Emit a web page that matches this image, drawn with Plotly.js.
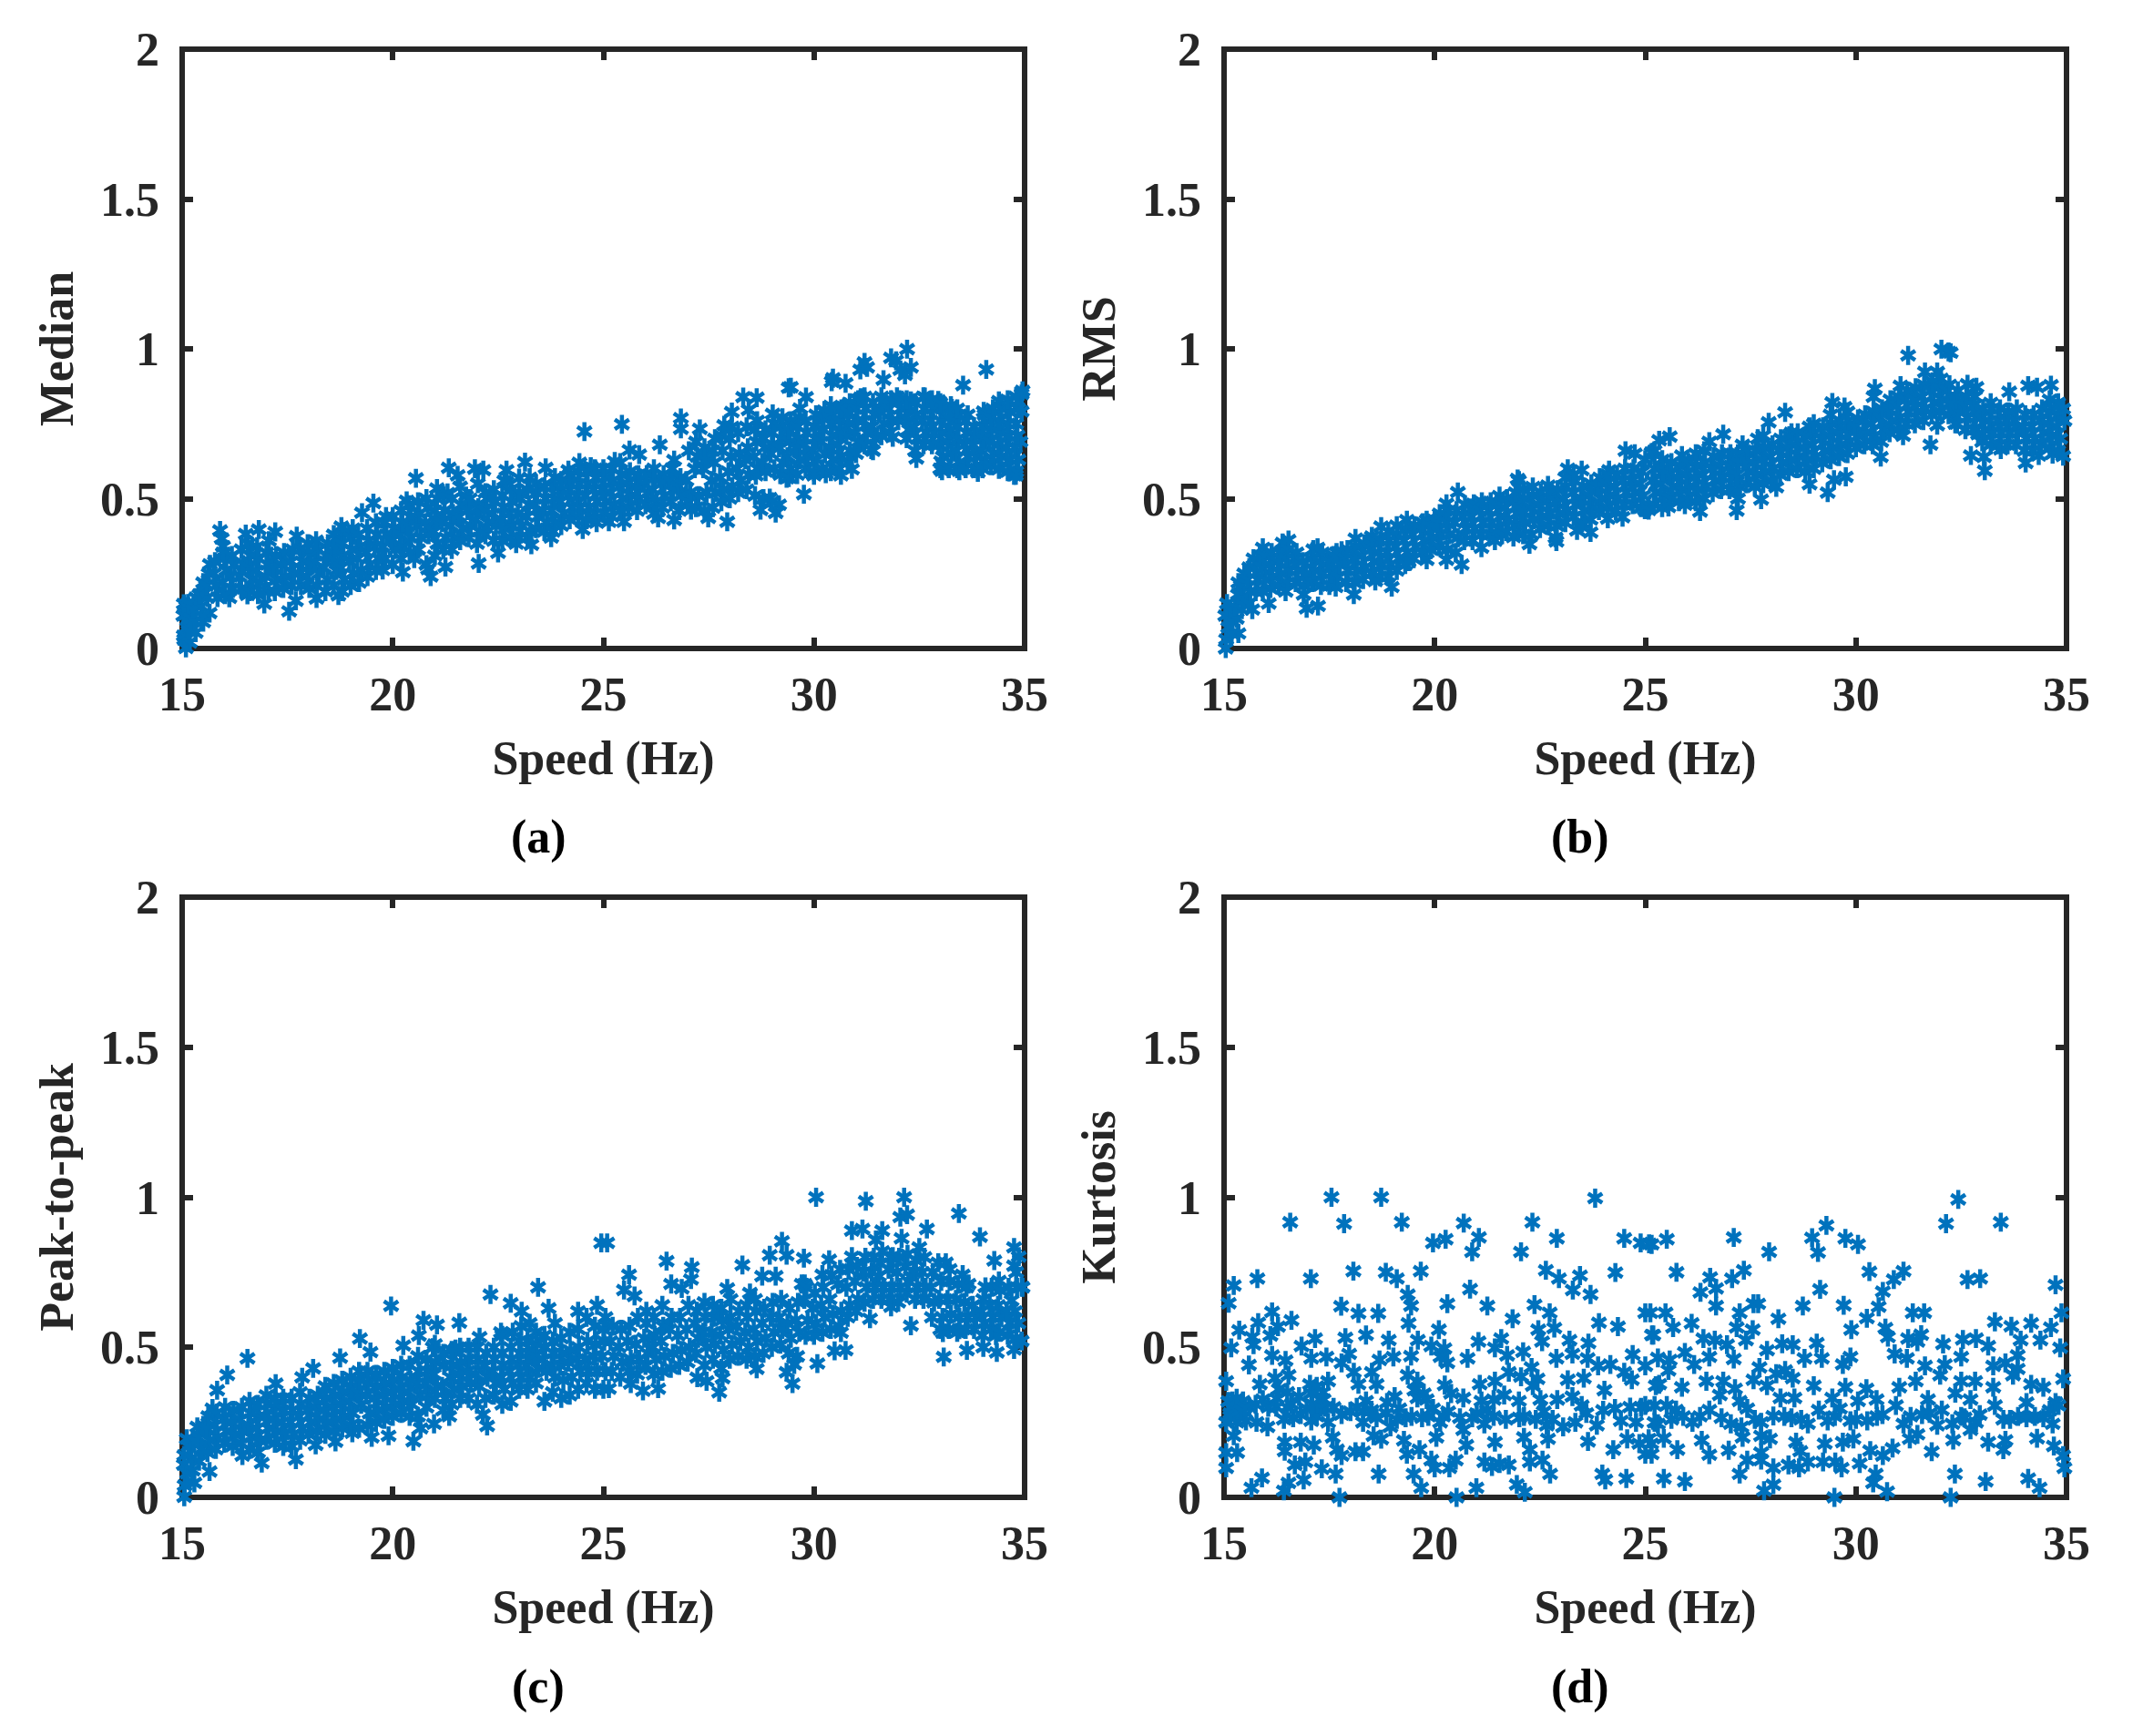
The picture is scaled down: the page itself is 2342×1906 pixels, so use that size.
<!DOCTYPE html>
<html><head><meta charset="utf-8">
<script src="https://cdn.plot.ly/plotly-3.0.1.min.js"></script>
<style>html,body{margin:0;padding:0;background:#fff}</style></head>
<body><div id="chart" style="width:2342px;height:1906px"></div>
<script>
// Each array: speed (Hz), value, speed, value, ...
const medianPairs = [24.55,.724,21.33,.603,21.54,.578,20.55,.568,21.95,.6,22.15,.595,22.7,.595,23.14,.622,23.63,.603,23,.569,22.7,.556,24.17,.595,24.43,.62,24.7,.607,19.54,.485,19.27,.453,15.9,.394,16.51,.382,16.82,.397,17.21,.389,17.72,.375,18.78,.407,20.33,.493,21.05,.534,21.3,.519,21.74,.509,24.51,.397,24.84,.42,23.76,.37,23.29,.346,22.93,.35,22.5,.319,22.04,.284,21.25,.272,20.9,.24,20.84,.265,20.24,.255,19.76,.262,20.51,.3,18.71,.177,18.19,.167,17.54,.124,17.7,.159,16.95,.149,16.55,.179,16.12,.169,15.65,.118,15.5,.088,15.32,.053,15.09,.002,15.04,.043,15.07,.113,15.04,.149,15.5,.22,15.66,.281,15.97,.341,15.94,.367,
15.05,.03,15.12,.07,15.03,.11,15.1,.14,15.18,.02,15.15,.06,15.2,.1,15.14,.15,15.3,.09,15.26,.13,15.33,.17,15.45,.14,15.41,.18,15.48,.11,15.6,.17,15.57,.21,15.63,.25,15.8,.21,15.75,.25,15.84,.17,15.78,.29,16.02,.18,15.96,.22,16.05,.26,16,.3,15.97,.32,16.2,.2,16.15,.24,16.24,.28,16.18,.31,16.4,.2,16.36,.24,16.45,.28,16.41,.33,16.6,.19,16.66,.23,16.58,.27,16.62,.31,16.56,.35,16.8,.18,16.85,.22,16.76,.26,16.82,.3,16.78,.34,17.05,.19,16.98,.24,17.03,.28,17,.32,17.06,.36,17.2,.19,17.25,.23,17.17,.27,17.23,.31,17.4,.2,17.45,.24,17.36,.28,17.42,.32,17.6,.21,17.66,.25,17.58,.29,17.63,.33,17.82,.21,17.77,.25,17.85,.29,17.8,.33,18.02,.2,17.96,.24,18.05,.28,18,.32,17.98,.35,18.2,.21,18.25,.25,18.16,.29,18.23,.33,18.18,.36,18.4,.19,18.45,.23,18.36,.27,18.42,.31,18.46,.35,18.6,.21,18.66,.26,18.57,.3,18.63,.34,18.6,.38,18.8,.19,18.85,.23,18.76,.27,18.83,.31,18.79,.35,18.86,.39,19,.21,19.06,.25,18.97,.29,19.03,.33,19,.37,19.05,.4,19.2,.22,19.26,.26,19.16,.3,19.23,.34,19.18,.38,19.4,.24,19.45,.28,19.37,.32,19.43,.36,19.39,.4,19.6,.26,19.66,.3,19.57,.34,19.63,.38,19.6,.42,19.82,.3,19.76,.34,19.85,.38,19.8,.42,19.84,.44,20,.28,20.06,.33,19.97,.36,20.04,.4,20,.44,20.2,.3,20.26,.34,20.17,.38,20.23,.42,20.2,.46,20.4,.32,20.44,.37,20.36,.41,20.43,.44,20.38,.48,20.6,.33,20.66,.37,20.57,.41,20.63,.45,20.6,.49,20.8,.28,20.85,.38,20.77,.42,20.83,.47,20.8,.5,21,.31,21.06,.35,20.97,.39,21.03,.43,21,.46,21.05,.5,21.2,.33,21.26,.37,21.17,.42,21.23,.46,21.2,.51,21.4,.33,21.45,.37,21.37,.41,21.43,.45,21.4,.5,21.6,.36,21.66,.4,21.57,.44,21.63,.48,21.6,.54,21.8,.37,21.85,.41,21.77,.46,21.83,.5,22,.35,22.06,.39,21.97,.43,22.03,.47,22.02,.55,22.2,.38,22.26,.42,22.17,.46,22.23,.5,22.2,.52,22.4,.36,22.45,.41,22.37,.45,22.43,.49,22.4,.53,22.6,.36,22.66,.4,22.57,.43,22.63,.47,22.6,.51,22.65,.56,22.8,.37,22.85,.41,22.77,.45,22.83,.49,22.8,.53,23,.37,23.06,.41,22.97,.45,23.03,.5,23,.52,23.2,.37,23.26,.39,23.17,.44,23.23,.48,23.2,.53,23.25,.57,23.4,.4,23.45,.44,23.37,.48,23.43,.52,23.4,.55,23.6,.39,23.66,.42,23.57,.46,23.63,.5,23.6,.54,23.8,.39,23.85,.42,23.77,.46,23.83,.5,23.8,.54,23.85,.57,24,.41,24.06,.45,23.97,.49,24.03,.53,24,.56,24.2,.43,24.26,.47,24.17,.51,24.23,.55,24.2,.58,24.4,.44,24.45,.47,24.37,.51,24.43,.55,24.4,.59,24.6,.43,24.66,.47,24.57,.51,24.63,.55,24.6,.59,24.8,.45,24.85,.49,24.77,.53,24.83,.57,24.8,.6,25,.45,25.06,.49,24.97,.53,25.03,.57,25,.6,
25.44,.748,26.34,.68,25.62,.662,25.85,.647,25.27,.624,26.68,.629,26.84,.769,26.84,.733,27.29,.733,28.32,.839,28.64,.837,28.05,.789,28.45,.796,27.87,.745,29.02,.783,29.45,.872,29.4,.87,29.81,.839,29.67,.801,30.25,.794,30.45,.902,30.42,.89,30.75,.885,31.26,.938,31.2,.955,31.1,.93,31.83,.97,31.95,.96,32.21,.999,32.3,.938,32.16,.913,32.05,.93,31.65,.897,31.11,.837,30.72,.806,33.54,.879,34.09,.931,34.93,.849,34.95,.86,34.93,.791,34.9,.69,34.79,.578,34.39,.826,34.03,.791,33.27,.801,32.63,.839,32.95,.828,32.3,.826,32.43,.634,33.04,.593,33.45,.593,33.89,.588,34.39,.598,34.75,.578,33.02,.624,31.87,.705,31.36,.664,30.9,.598,30.64,.578,30.28,.583,30,.578,29.76,.515,29.35,.568,29.09,.452,29.17,.48,28.73,.462,27.94,.423,27.49,.436,27.08,.462,26.68,.429,26.3,.436,25.49,.423,25.13,.423,28.95,.502,28.62,.578,
25.2,.44,25.26,.48,25.17,.52,25.23,.56,25.2,.6,25.4,.46,25.45,.5,25.37,.54,25.43,.58,25.4,.62,25.6,.47,25.66,.51,25.57,.55,25.63,.59,25.8,.46,25.85,.5,25.77,.54,25.83,.58,26,.48,26.06,.52,25.97,.55,26.03,.58,26.2,.45,26.26,.49,26.17,.53,26.23,.57,26.2,.6,26.4,.47,26.45,.51,26.37,.55,26.43,.58,26.6,.49,26.66,.53,26.57,.56,26.63,.6,26.8,.46,26.85,.51,26.77,.54,26.83,.57,27,.49,27.06,.52,26.97,.56,27.03,.66,27.2,.47,27.26,.51,27.17,.6,27.23,.64,27.2,.69,27.4,.46,27.45,.52,27.37,.6,27.43,.63,27.4,.67,27.6,.47,27.66,.52,27.57,.56,27.63,.62,27.6,.66,27.65,.7,27.8,.49,27.85,.53,27.77,.57,27.83,.66,27.8,.71,28,.5,28.06,.54,27.97,.59,28.03,.64,28,.7,28.05,.74,28.2,.52,28.26,.56,28.17,.6,28.23,.65,28.2,.72,28.4,.53,28.45,.58,28.37,.63,28.43,.67,28.4,.74,28.6,.51,28.66,.6,28.57,.64,28.63,.69,28.6,.73,28.65,.76,28.8,.5,28.85,.59,28.77,.62,28.83,.67,28.8,.7,28.85,.73,29,.49,29.06,.6,28.97,.65,29.03,.68,29,.72,29.05,.75,29.2,.58,29.26,.62,29.17,.67,29.23,.7,29.2,.74,29.25,.77,29.4,.57,29.45,.6,29.37,.64,29.43,.69,29.4,.73,29.45,.76,29.6,.58,29.66,.63,29.57,.67,29.63,.7,29.6,.74,29.65,.77,29.8,.6,29.85,.64,29.77,.68,29.83,.72,29.8,.76,30,.59,30.06,.63,29.97,.66,30.03,.7,30,.74,30.05,.78,30.2,.6,30.26,.65,30.17,.69,30.23,.73,30.2,.77,30.25,.79,30.4,.59,30.45,.63,30.37,.67,30.43,.71,30.4,.75,30.45,.78,30.4,.81,30.6,.6,30.66,.64,30.57,.68,30.63,.72,30.6,.76,30.65,.8,30.8,.62,30.85,.66,30.77,.71,30.83,.75,30.8,.79,30.85,.82,31,.65,31.06,.69,30.97,.72,31.03,.76,31,.8,31.05,.83,31.2,.68,31.26,.72,31.17,.76,31.23,.8,31.2,.84,31.4,.66,31.45,.7,31.37,.74,31.43,.78,31.4,.82,31.6,.71,31.66,.75,31.57,.79,31.63,.82,31.6,.84,31.8,.72,31.85,.76,31.77,.8,31.83,.83,32,.76,32.06,.8,31.97,.84,32.03,.83,32.2,.7,32.26,.73,32.17,.77,32.23,.81,32.2,.83,32.4,.66,32.45,.7,32.37,.74,32.43,.78,32.4,.82,32.6,.68,32.66,.72,32.57,.76,32.63,.8,32.6,.84,32.8,.68,32.85,.72,32.77,.76,32.83,.8,32.8,.83,33,.6,33.06,.64,32.97,.68,33.03,.72,33,.76,33.05,.8,33,.82,33.2,.6,33.26,.65,33.17,.69,33.23,.73,33.2,.77,33.25,.81,33.4,.6,33.45,.62,33.37,.66,33.43,.7,33.4,.74,33.45,.78,33.4,.8,33.6,.6,33.66,.64,33.57,.68,33.63,.72,33.6,.76,33.65,.78,33.8,.6,33.85,.64,33.77,.68,33.83,.71,33.8,.74,34,.6,34.06,.63,33.97,.66,34.03,.7,34,.74,34.05,.78,34.2,.61,34.26,.65,34.17,.69,34.23,.73,34.2,.77,34.25,.8,34.4,.6,34.45,.64,34.37,.68,34.43,.72,34.4,.76,34.45,.8,34.6,.59,34.66,.63,34.57,.67,34.63,.71,34.6,.75,34.65,.79,34.6,.83,34.8,.59,34.85,.63,34.77,.67,34.83,.71,34.8,.75,34.85,.8,34.8,.84];

const rmsPairs = [15.04,0,15.34,.05,15.67,.13,16.06,.15,16.46,.19,16.96,.134,17.23,.142,16.89,.18,17.65,.205,18.08,.18,18.98,.205,18.59,.225,19.81,.296,19.38,.29,20.28,.296,20.64,.28,21.11,.336,21.43,.36,22.25,.348,21.87,.372,22.89,.357,22.87,.37,23.38,.394,23.7,.387,24.11,.433,24.46,.438,24.99,.463,15.7,.3,15.92,.336,16.39,.352,16.53,.362,15.34,.22,17.22,.336,17.79,.326,18.12,.367,18.51,.374,18.73,.407,19.34,.428,19.81,.428,20.28,.483,20.55,.522,20.93,.483,21.54,.509,21.97,.566,22,.56,22.33,.539,22.69,.544,23.16,.6,23.49,.595,24.14,.595,24.53,.66,24.75,.65,25.22,.66,
15.05,.03,15.1,.07,15.03,.11,15.07,.15,15.18,.05,15.2,.09,15.14,.13,15.3,.1,15.26,.14,15.33,.18,15.42,.13,15.46,.17,15.4,.21,15.48,.25,15.58,.15,15.62,.19,15.55,.23,15.6,.27,15.75,.19,15.8,.23,15.72,.27,15.85,.31,15.92,.19,15.98,.23,15.9,.27,15.95,.31,16.1,.2,16.15,.24,16.08,.28,16.13,.32,16.3,.21,16.35,.25,16.28,.29,16.33,.32,16.5,.22,16.55,.26,16.47,.3,16.52,.33,16.7,.22,16.75,.26,16.67,.3,16.72,.32,16.9,.21,16.95,.25,16.87,.29,17,.22,17.1,.22,17.15,.26,17.07,.3,17.12,.33,17.3,.21,17.35,.25,17.28,.29,17.33,.32,17.5,.21,17.55,.25,17.47,.29,17.6,.31,17.7,.24,17.75,.28,17.67,.32,17.9,.22,17.95,.26,17.87,.3,17.93,.33,18.1,.22,18.15,.26,18.07,.3,18.12,.34,18.3,.23,18.35,.27,18.28,.31,18.33,.35,18.5,.25,18.55,.29,18.47,.33,18.52,.36,18.7,.24,18.75,.28,18.67,.32,18.72,.36,18.9,.24,18.95,.28,18.87,.32,18.92,.36,18.9,.39,19.1,.26,19.15,.3,19.07,.34,19.12,.38,19.1,.41,19.3,.28,19.35,.32,19.27,.36,19.32,.4,19.5,.3,19.55,.34,19.47,.38,19.52,.41,19.7,.32,19.75,.36,19.67,.4,19.72,.42,19.9,.33,19.95,.37,19.87,.41,20,.43,20.1,.34,20.15,.38,20.07,.42,20.12,.45,20.3,.33,20.35,.38,20.28,.42,20.33,.46,20.5,.32,20.55,.37,20.47,.42,20.52,.46,20.7,.36,20.75,.4,20.67,.44,20.72,.48,20.9,.36,20.95,.4,20.87,.44,20.92,.47,21.1,.38,21.15,.42,21.07,.46,21.12,.49,21.3,.38,21.35,.42,21.28,.46,21.33,.49,21.5,.4,21.55,.44,21.47,.48,21.6,.38,21.7,.39,21.75,.43,21.67,.47,21.72,.5,21.9,.41,21.95,.45,21.87,.49,21.92,.52,22.1,.38,22.15,.42,22.07,.46,22.12,.5,22.1,.53,22.3,.38,22.35,.43,22.28,.47,22.33,.51,22.5,.4,22.55,.44,22.47,.48,22.52,.52,22.7,.41,22.75,.45,22.67,.49,22.72,.52,22.9,.41,22.95,.45,22.87,.49,22.92,.53,23.1,.42,23.15,.46,23.07,.5,23.12,.54,23.1,.57,23.3,.44,23.35,.48,23.28,.52,23.33,.56,23.3,.58,23.5,.42,23.55,.46,23.47,.5,23.52,.54,23.7,.43,23.75,.47,23.67,.51,23.72,.55,23.9,.46,23.95,.5,23.87,.54,23.92,.57,24.1,.47,24.15,.51,24.07,.55,24.12,.58,24.3,.46,24.35,.5,24.28,.54,24.33,.58,24.5,.48,24.55,.52,24.47,.56,24.52,.6,24.7,.48,24.75,.52,24.67,.56,24.72,.6,24.9,.47,24.95,.51,24.87,.55,24.92,.59,25,.63,
25.58,.707,25.33,.695,25.15,.654,25.87,.644,26.52,.69,26.85,.715,27.31,.68,27.67,.7,27.93,.755,28.32,.788,28.47,.72,28.9,.74,29.44,.821,29.73,.806,30.05,.766,30.45,.867,30.42,.84,30.45,.786,31.06,.877,31.24,.978,32.03,.999,32.2,.99,32.25,.987,31.64,.923,31.93,.923,32.65,.882,32.86,.872,33.64,.857,34.09,.877,34.3,.872,34.63,.879,34.92,.8,26.3,.457,27.17,.46,27.75,.497,28.11,.538,28.9,.548,29.33,.52,29.76,.573,29.48,.563,30.59,.639,31.12,.71,31.77,.68,31.93,.745,32.36,.75,32.9,.715,32.73,.644,33.06,.593,33.04,.639,33.44,.664,34.03,.619,34.34,.644,34.67,.649,34.92,.642,25.55,.472,25.08,.462,25.94,.48,
25.2,.48,25.25,.52,25.17,.56,25.22,.6,25.4,.47,25.45,.51,25.37,.55,25.42,.59,25.4,.63,25.6,.5,25.65,.54,25.57,.58,25.62,.62,25.8,.49,25.85,.53,25.77,.57,25.82,.61,26,.5,26.05,.54,25.97,.58,26.02,.62,26.2,.49,26.25,.53,26.17,.57,26.22,.61,26.2,.65,26.4,.5,26.45,.54,26.37,.58,26.42,.62,26.4,.66,26.6,.52,26.65,.56,26.57,.6,26.62,.64,26.8,.53,26.85,.57,26.77,.61,26.82,.65,27,.53,27.05,.57,26.97,.61,27.02,.65,27.2,.5,27.25,.54,27.17,.58,27.22,.62,27.2,.65,27.4,.55,27.45,.59,27.37,.63,27.42,.66,27.6,.54,27.65,.58,27.57,.62,27.62,.66,27.8,.55,27.85,.59,27.77,.63,27.82,.67,27.8,.71,28,.56,28.05,.6,27.97,.64,28.02,.68,28.2,.58,28.25,.62,28.17,.66,28.22,.7,28.4,.59,28.45,.63,28.37,.67,28.42,.71,28.6,.6,28.65,.64,28.57,.68,28.62,.72,28.8,.59,28.85,.63,28.77,.67,28.82,.71,29,.6,29.05,.64,28.97,.68,29.02,.72,29,.75,29.2,.62,29.25,.66,29.17,.7,29.22,.74,29.4,.63,29.45,.67,29.37,.71,29.42,.75,29.4,.78,29.6,.64,29.65,.68,29.57,.72,29.62,.76,29.8,.65,29.85,.69,29.77,.73,29.82,.76,29.8,.79,30,.67,30.05,.71,29.97,.74,30.2,.68,30.25,.72,30.17,.76,30.22,.78,30.4,.68,30.45,.71,30.37,.75,30.42,.79,30.6,.69,30.65,.73,30.57,.77,30.62,.8,30.8,.72,30.85,.76,30.77,.8,30.82,.83,31,.73,31.05,.77,30.97,.81,31.02,.84,31.2,.75,31.25,.79,31.17,.83,31.22,.86,31.4,.75,31.45,.79,31.37,.83,31.42,.87,31.6,.76,31.65,.8,31.57,.84,31.62,.88,31.8,.78,31.85,.82,31.77,.86,31.82,.89,32,.79,32.05,.83,31.97,.87,32.02,.9,32.2,.78,32.25,.82,32.17,.86,32.22,.88,32.4,.75,32.45,.79,32.37,.83,32.42,.86,32.6,.73,32.65,.77,32.57,.81,32.62,.84,32.8,.73,32.85,.77,32.77,.81,32.82,.84,33,.69,33.05,.73,32.97,.77,33.02,.8,33.2,.68,33.25,.72,33.17,.76,33.22,.8,33.2,.82,33.4,.68,33.45,.72,33.37,.76,33.42,.8,33.6,.68,33.65,.72,33.57,.76,33.62,.79,33.8,.68,33.85,.72,33.77,.76,33.82,.8,34,.66,34.05,.7,33.97,.74,34.02,.78,34.2,.66,34.25,.7,34.17,.74,34.22,.78,34.4,.68,34.45,.72,34.37,.76,34.42,.8,34.6,.67,34.65,.71,34.57,.75,34.62,.79,34.6,.83,34.8,.66,34.85,.7,34.77,.74,34.82,.78,34.8,.82,34.95,.76];

const peakPairs = [16.55,.463,16.07,.408,15.83,.357,17.22,.379,17.85,.4,18.11,.43,18.75,.465,19.22,.529,19.47,.484,19.96,.638,20.25,.506,20.73,.59,21.05,.575,20.62,.539,20.95,.499,21.58,.582,22.32,.676,22.06,.534,22.57,.55,21.49,.494,23.45,.7,22.8,.647,23.06,.62,23.7,.63,24.4,.62,24.85,.64,15.05,.002,15.29,.048,15.65,.086,15.04,.109,16.43,.139,16.89,.114,17.7,.126,18.17,.175,18.64,.185,19.04,.215,19.5,.2,19.9,.205,20.49,.187,20.66,.23,20.98,.245,21.34,.27,22.14,.276,22.24,.238,15.11,.195,15.36,.235,15.72,.296,
15.06,.04,15.12,.08,15.05,.14,15.15,.17,15.25,.09,15.22,.13,15.28,.19,15.4,.12,15.45,.16,15.38,.2,15.5,.24,15.6,.15,15.65,.19,15.57,.23,15.62,.27,15.8,.16,15.85,.2,15.77,.24,15.82,.28,16,.18,16.05,.22,15.97,.26,16.02,.3,16.2,.17,16.25,.21,16.17,.25,16.22,.29,16.4,.18,16.45,.22,16.37,.26,16.42,.3,16.6,.16,16.65,.2,16.57,.24,16.62,.28,16.6,.32,16.8,.15,16.85,.19,16.77,.23,16.82,.27,16.8,.31,17,.19,17.05,.23,16.97,.27,17.02,.31,17,.34,17.2,.18,17.25,.22,17.17,.26,17.22,.3,17.2,.33,17.4,.17,17.45,.21,17.37,.25,17.42,.29,17.4,.33,17.6,.17,17.65,.21,17.57,.25,17.62,.29,17.6,.33,17.8,.19,17.85,.23,17.77,.27,17.82,.31,17.8,.35,18,.21,18.05,.25,17.97,.29,18.02,.33,18.2,.22,18.25,.26,18.17,.3,18.22,.34,18.4,.21,18.45,.25,18.37,.29,18.42,.33,18.4,.37,18.6,.22,18.65,.26,18.57,.3,18.62,.34,18.6,.38,18.8,.23,18.85,.27,18.77,.31,18.82,.35,18.8,.39,19,.24,19.05,.28,18.97,.32,19.02,.36,19,.4,19.2,.23,19.25,.31,19.17,.35,19.22,.39,19.2,.42,19.4,.24,19.45,.28,19.37,.34,19.42,.38,19.4,.42,19.6,.25,19.65,.29,19.57,.33,19.62,.37,19.6,.41,19.8,.26,19.85,.3,19.77,.34,19.82,.38,19.8,.42,20,.27,20.05,.31,19.97,.35,20.02,.39,20,.43,20.2,.28,20.25,.32,20.17,.36,20.22,.4,20.2,.44,20.4,.27,20.45,.31,20.37,.35,20.42,.39,20.4,.44,20.6,.27,20.65,.34,20.57,.38,20.62,.42,20.6,.47,20.8,.3,20.85,.34,20.77,.38,20.82,.42,20.8,.46,21,.33,21.05,.37,20.97,.41,21.02,.45,21,.51,21.2,.29,21.25,.33,21.17,.37,21.22,.44,21.2,.48,21.4,.31,21.45,.36,21.37,.4,21.42,.44,21.4,.49,21.6,.33,21.65,.37,21.57,.41,21.62,.45,21.6,.5,21.8,.33,21.85,.38,21.77,.42,21.82,.46,21.8,.5,22,.31,22.05,.37,21.97,.41,22.02,.46,22,.5,22.2,.33,22.25,.4,22.17,.44,22.22,.48,22.4,.34,22.45,.38,22.37,.42,22.42,.46,22.4,.5,22.6,.31,22.65,.36,22.57,.4,22.62,.44,22.6,.48,22.6,.54,22.8,.32,22.85,.38,22.77,.42,22.82,.46,22.8,.5,22.85,.55,23,.36,23.05,.4,22.97,.44,23.02,.48,23,.52,23.05,.57,23.2,.36,23.25,.4,23.17,.44,23.22,.48,23.2,.52,23.25,.58,23.4,.38,23.45,.43,23.37,.47,23.42,.51,23.4,.55,23.6,.32,23.65,.42,23.57,.46,23.62,.5,23.6,.54,23.8,.35,23.85,.4,23.77,.44,23.82,.48,23.8,.52,23.85,.58,24,.33,24.05,.39,23.97,.44,24.02,.48,24,.53,24.2,.34,24.25,.4,24.17,.45,24.22,.49,24.2,.55,24.4,.36,24.45,.42,24.37,.46,24.42,.5,24.4,.56,24.6,.38,24.65,.42,24.57,.46,24.62,.52,24.6,.6,24.8,.36,24.85,.42,24.77,.47,24.82,.51,24.8,.57,25,.36,25.05,.42,24.97,.47,25.02,.52,25,.56,25.05,.6,25.09,.848,24.95,.848,26.5,.787,27.1,.767,25.61,.742,25.49,.691,25.74,.671,27.08,.726,26.61,.711,26.86,.696,27.94,.696,28.48,.681,28.3,.774,28.77,.737,29.09,.737,28.95,.807,29.24,.853,29.35,.807,29.76,.797,30.36,.792,29.71,.711,30.9,.889,31.15,.894,31.62,.889,31.47,.858,31.23,.987,30.05,1,32.14,1,32.05,.934,32.21,.942,32.08,.863,32.68,.894,32.5,.833,33.44,.946,33.94,.868,34.28,.789,34.75,.833,34.86,.802,34.75,.772,34.93,.701,34.07,.701,34.39,.721,34.69,.656,32.95,.782,33.13,.782,33.53,.742,33.67,.711,32.3,.737,31.87,.802,31.54,.737,30.9,.802,30.2,.742,29.78,.711,25.13,.362,25.65,.379,25.94,.355,26.3,.362,27.23,.399,27.45,.387,27.83,.397,27.75,.35,28.64,.428,29.35,.417,29.49,.379,29.53,.443,30.08,.446,30.49,.488,30.75,.49,30.64,.549,31.33,.595,31.83,.635,32.3,.572,33.08,.468,33.63,.49,34.02,.5,34.34,.483,34.75,.493,34.93,.521,33.06,.549,33.45,.559,34.32,.539,
25.2,.42,25.25,.47,25.17,.52,25.22,.57,25.4,.4,25.45,.45,25.37,.5,25.42,.56,25.6,.42,25.65,.46,25.57,.52,25.62,.57,25.8,.41,25.85,.46,25.77,.51,25.82,.6,26,.44,26.05,.48,25.97,.53,26.02,.58,26.02,.62,26.2,.41,26.25,.46,26.17,.5,26.22,.54,26.2,.6,26.4,.42,26.45,.47,26.37,.52,26.42,.57,26.4,.64,26.6,.43,26.65,.48,26.57,.56,26.62,.6,26.8,.44,26.85,.49,26.77,.54,26.82,.6,27,.45,27.05,.5,26.97,.56,27.02,.64,27.2,.48,27.25,.53,27.17,.58,27.22,.62,27.4,.44,27.45,.5,27.37,.55,27.42,.6,27.4,.65,27.6,.46,27.65,.51,27.57,.55,27.62,.6,27.6,.64,27.8,.43,27.85,.49,27.77,.54,27.82,.59,27.8,.63,28,.46,28.05,.51,27.97,.56,28.02,.6,28.02,.66,28.2,.47,28.25,.52,28.17,.57,28.22,.62,28.4,.46,28.45,.5,28.37,.55,28.42,.6,28.4,.64,28.6,.47,28.65,.52,28.57,.56,28.62,.62,28.6,.66,28.8,.48,28.85,.53,28.77,.58,28.82,.63,29,.5,29.05,.55,28.97,.6,29.02,.65,29.2,.51,29.25,.56,29.17,.6,29.22,.66,29.4,.48,29.45,.53,29.37,.58,29.42,.63,29.6,.47,29.65,.55,29.57,.59,29.62,.65,29.8,.54,29.85,.59,29.77,.66,29.82,.7,30,.54,30.05,.58,29.97,.63,30.02,.68,30.2,.55,30.25,.6,30.17,.64,30.22,.7,30.4,.56,30.45,.61,30.37,.66,30.42,.74,30.6,.57,30.65,.62,30.57,.71,30.62,.76,30.8,.6,30.85,.64,30.77,.7,30.82,.76,31,.62,31.05,.66,30.97,.72,31.02,.77,31.2,.65,31.25,.7,31.17,.75,31.22,.8,31.4,.66,31.45,.7,31.37,.75,31.42,.8,31.6,.66,31.65,.7,31.57,.78,31.62,.82,31.8,.66,31.85,.7,31.77,.76,31.82,.8,32,.65,32.05,.7,31.97,.75,32.02,.8,32.2,.68,32.25,.72,32.17,.77,32.22,.81,32.4,.66,32.45,.7,32.37,.75,32.42,.79,32.6,.66,32.65,.7,32.57,.75,32.62,.8,32.8,.6,32.85,.65,32.77,.7,32.82,.75,33,.56,33.05,.6,32.97,.66,33.02,.72,33.2,.56,33.25,.61,33.17,.66,33.22,.72,33.22,.76,33.4,.55,33.45,.6,33.37,.66,33.42,.71,33.6,.56,33.65,.6,33.57,.65,33.62,.7,33.8,.56,33.85,.6,33.77,.64,34,.54,34.05,.58,33.97,.62,34.02,.66,34.2,.56,34.25,.6,34.17,.64,34.22,.7,34.4,.55,34.45,.6,34.37,.64,34.42,.69,34.6,.54,34.65,.58,34.57,.62,34.62,.7,34.8,.53,34.85,.58,34.77,.62,34.82,.7,34.8,.75,34.95,.7];

const kurtPairs = [17.55,1,18.73,1,23.81,.997,16.57,.917,17.85,.912,19.22,.917,20.69,.914,22.32,.917,19.96,.848,20.26,.86,21.05,.866,20.89,.818,22.05,.818,22.9,.863,24.5,.863,24.89,.848,25.09,.845,15.79,.729,17.06,.729,18.07,.754,18.84,.75,19.1,.729,19.67,.754,22.64,.757,22.95,.729,23.45,.739,23.28,.691,23.7,.676,24.29,.749,15.23,.706,15.11,.647,20.84,.694,19.36,.676,19.44,.638,17.78,.637,18.19,.613,18.66,.613,20.3,.645,21.25,.638,21.85,.595,22.37,.642,22.73,.615,23.9,.582,24.35,.569,25,.615,16.14,.618,16.6,.59,15.81,.582,15.36,.557,15.67,.534,15.17,.498,15.7,.509,16.1,.539,16.28,.569,16.84,.504,17.16,.529,17.88,.532,18.37,.541,19.38,.58,20.1,.559,18.91,.524,19.6,.524,19.92,.504,20.23,.496,20.14,.468,20.3,.448,20.78,.463,21.04,.519,21.58,.529,21.43,.498,21.72,.473,22.1,.485,22.46,.559,22.84,.564,22.55,.519,23.2,.524,23.65,.514,22.89,.463,23.27,.478,23.63,.463,24.7,.476,25.16,.541,25,.438,23.88,.438,24.17,.443,24.5,.417,24.68,.392,15.59,.441,16.46,.456,16.14,.473,17.07,.463,17.43,.468,17.97,.478,17.79,.448,18.08,.417,18.51,.417,19.02,.468,18.69,.458,19.44,.471,19.36,.407,19.59,.387,22.3,.433,21.76,.417,22.05,.402,22.44,.395,23.16,.392,23.54,.397,22.33,.372,21.07,.377,21.43,.387,20.24,.374,15.05,.387,15.85,.377,16.21,.397,16.53,.407,17.04,.377,17.47,.387,18.19,.377,18.62,.377,19.74,.346,19.52,.357,15.2,.321,15.45,.321,15.34,.286,15.05,.25,15.52,.255,15.77,.25,16.03,.235,15.92,.326,16.24,.301,16.78,.336,17.07,.346,17.36,.326,16.96,.296,17.22,.306,16.82,.276,16.64,.265,16.42,.26,17.07,.255,17.47,.25,17.79,.276,18,.286,18.3,.25,18.37,.321,18.3,.286,18.62,.265,18.95,.235,18.73,.194,18.55,.205,18.87,.316,19.05,.336,19.16,.296,19.31,.265,19.59,.331,19.81,.326,19.96,.296,19.7,.265,20.13,.25,20.39,.346,20.68,.331,20.32,.286,20.6,.265,20.89,.265,21.18,.245,21.25,.291,21.11,.321,21.4,.326,21.65,.341,22,.321,21.69,.26,22.01,.265,22.12,.27,22.51,.326,22.59,.286,22.91,.326,23.27,.336,23.49,.306,22.66,.24,23.05,.235,23.34,.25,23.85,.24,24.03,.357,24.28,.296,24.64,.301,25,.306,24.42,.255,24.78,.25,25.22,.25,25.25,.372,15.23,.205,15.05,.149,15.31,.149,15.05,.098,16.44,.184,16.44,.154,16.82,.184,17.13,.174,17.58,.2,17.68,.159,17.79,.139,18.12,.152,18.3,.152,16.68,.108,16.93,.118,17.32,.095,17.65,.078,16.89,.058,16.53,.048,16.42,.022,15.9,.065,15.65,.032,17.74,0,18.67,.078,19.27,.19,19.64,.159,19.34,.144,20.04,.2,19.92,.124,20,.098,20.35,.098,20.5,.124,19.5,.078,19.68,.032,20.52,0,20.99,.032,20.68,.225,20.75,.174,21.43,.184,21.18,.118,21.36,.103,21.76,.108,21.54,.113,22.12,.2,22.26,.159,22.26,.118,22.56,.124,22.74,.078,21.95,.043,22.14,.017,22.69,.195,23.64,.186,24.24,.159,24.57,.195,24.86,.179,25,.144,25.14,.179,23.98,.078,24.05,.058,24.55,.063,
15.6,.3,15.75,.31,16.05,.3,16.5,.3,16.6,.31,16.25,.33,15.15,.28,15.3,.25,17.2,.27,17.6,.3,17.4,.3,18.15,.3,18.5,.29,18.85,.28,19.1,.26,19.45,.27,19.85,.27,20.2,.27,21,.28,21.4,.27,22.4,.26,22.8,.26,23.6,.28,24,.29,24.9,.3,15.1,.32,15.3,.33,15.4,.29,15.15,.27,15.5,.3,16.3,.36,16.5,.35,17.1,.31,17.3,.3,17.35,.35,17.2,.37,
25.9,.27,26.3,.27,27.6,.26,28.3,.27,28.7,.26,29.5,.27,30,.26,30.5,.27,31.3,.27,31.75,.28,32.5,.27,32.85,.25,33.5,.26,33.85,.27,34.25,.27,34.6,.29,
32.43,.993,32.14,.912,33.44,.917,29.3,.906,28.96,.865,29.1,.816,29.75,.863,30.05,.843,25.51,.86,25.15,.843,27.1,.866,27.94,.818,25.74,.75,26.54,.733,26.68,.696,27.06,.729,27.34,.757,26.31,.683,26.68,.638,27.57,.645,27.24,.615,27.68,.645,28.16,.595,28.74,.638,29.15,.693,29.71,.64,30.32,.752,30.9,.726,31.13,.754,30.64,.686,30.54,.635,30.26,.597,30.7,.564,30.76,.534,29.89,.559,25.48,.615,25.12,.615,25.66,.566,26.1,.58,25.19,.541,27.17,.566,27.55,.559,27.39,.524,31.35,.615,31.62,.615,31.55,.542,31.24,.529,31.46,.519,32.07,.511,32.54,.526,32.85,.529,33.14,.504,32.65,.726,32.95,.729,34.74,.708,34.88,.615,34.85,.498,34.92,.395,33.3,.585,33.69,.57,34.16,.58,34.63,.566,34.38,.524,33.91,.524,33.84,.473,26.38,.529,26.65,.524,26.94,.509,25.94,.483,26.16,.443,26.52,.468,27.1,.461,25.3,.465,25.58,.458,25.55,.423,27.89,.49,28.25,.512,28.5,.509,28.78,.463,29.07,.514,29.19,.463,29.87,.468,29.69,.443,30.92,.478,31.21,.463,31.64,.438,32.11,.443,32.5,.468,33.26,.438,33.55,.448,33.84,.428,27.71,.433,28.11,.412,28.32,.423,28.5,.397,25.33,.377,25.87,.367,26.45,.387,26.85,.387,27.57,.392,27.89,.372,27.13,.362,26.77,.341,29,.372,29.44,.331,29.75,.367,30.25,.362,30.49,.326,30.05,.321,31.03,.367,31.42,.387,32,.407,32.5,.387,32.83,.387,32.36,.347,31.71,.326,32.72,.326,33.26,.367,33.73,.407,34.16,.377,34.45,.367,34.05,.316,34.74,.316,25.22,.306,25.51,.306,25.73,.291,25.3,.245,25.62,.26,26.12,.25,26.52,.291,26.81,.265,27.24,.321,27.42,.296,27.03,.245,27.28,.235,27.75,.25,28.04,.271,28.21,.331,28.54,.331,28.47,.265,28.86,.245,29.12,.291,29.33,.255,29.62,.296,29.87,.255,30.27,.255,30.63,.276,30.95,.306,31.13,.245,31.57,.276,31.93,.24,32.04,.291,32.29,.245,32.72,.225,32.58,.265,32.94,.276,33.3,.306,33.66,.26,34.05,.265,34.45,.265,34.67,.245,34.81,.306,25.44,.197,25.76,.159,25.08,.195,25.15,.144,26.34,.19,26.52,.142,26.98,.157,27.31,.2,27.75,.205,27.96,.195,27.75,.149,27.42,.124,27.24,.078,27.75,.124,28.04,.098,28.4,.108,28.65,.098,28.86,.118,28.58,.184,28.68,.154,29.26,.179,29.22,.118,29.51,.118,29.66,.098,29.69,.184,29.94,.195,30.09,.113,30.34,.156,30.64,.139,30.87,.164,31.28,.195,31.46,.21,31.8,.152,32.31,.191,33.14,.184,33.55,.19,33.5,.159,34.3,.197,34.7,.171,34.92,.139,34.95,.098,25.44,.063,25.94,.053,30.47,.078,30.41,.048,30.74,.019,29.49,0,28.04,.042,27.82,.022,32.25,0,32.35,.078,33.08,.053,34.09,.063,34.36,.032];

const panelTitles = ['Median','RMS','Peak-to-peak','Kurtosis'];
const panelTags = ['(a)','(b)','(c)','(d)'];
const panelData = [medianPairs,rmsPairs,peakPairs,kurtPairs];
const xTicks = [15,20,25,30,35];
const yTicks = [0,0.5,1,1.5,2];
const yLabels = ['0','0.5','1','1.5','2'];

const W=2342,H=1906, INK='#262626', BLUE='#0072BD';
const FONT='"Liberation Serif","Times New Roman",serif';
const boxes=[[200,1125,54,712],[1344,2269,54,712],[200,1125,985,1644],[1344,2269,985,1644]];
const tagX=[591,1735,591,1735], tagY=[919,919,1852,1852];

const layout={width:W,height:H,margin:{l:0,r:0,t:0,b:0},paper_bgcolor:'#fff',plot_bgcolor:'#fff',showlegend:false,hovermode:false,annotations:[],shapes:[]};
const traces=[];
panelData.forEach((pairs,i)=>{
  const x=[],y=[];
  for(let k=0;k<pairs.length;k+=2){x.push(pairs[k]);y.push(pairs[k+1]);}
  const n=i?String(i+1):'';
  const b=boxes[i];
  const axisCommon={showline:false,mirror:'ticks',ticks:'inside',ticklen:12,tickwidth:6,tickcolor:INK,
    showgrid:false,zeroline:false,layer:'below traces',tickfont:{family:FONT,size:52,color:INK,weight:'bold'}};
  layout['xaxis'+n]=Object.assign({},axisCommon,{domain:[b[0]/W,b[1]/W],range:[xTicks[0],xTicks[4]],tickmode:'array',tickvals:xTicks,ticktext:xTicks.map(String),anchor:'y'+n,
    ticklabelstandoff:15,title:{text:'Speed (Hz)',font:{family:FONT,size:52,color:INK,weight:'bold'},standoff:23}});
  layout['yaxis'+n]=Object.assign({},axisCommon,{domain:[1-b[3]/H,1-b[2]/H],range:[yTicks[0],yTicks[4]],tickmode:'array',tickvals:yTicks,ticktext:yLabels,anchor:'x'+n,
    ticklabelstandoff:24,title:{text:panelTitles[i],font:{family:FONT,size:52,color:INK,weight:'bold'},standoff:12}});
  layout.shapes.push({type:'rect',xref:'paper',yref:'paper',x0:b[0]/W,x1:b[1]/W,y0:1-b[3]/H,y1:1-b[2]/H,layer:'below',line:{color:INK,width:6},fillcolor:'rgba(0,0,0,0)'});
  ['y-up','y-down'].forEach(sym=>traces.push({type:'scatter',mode:'markers',x,y,xaxis:'x'+n,yaxis:'y'+n,cliponaxis:false,
    marker:{symbol:sym,size:13,color:BLUE,line:{color:BLUE,width:4.5}}}));
  layout.annotations.push({xref:'paper',yref:'paper',x:tagX[i]/W,y:1-tagY[i]/H,text:panelTags[i],showarrow:false,xanchor:'center',yanchor:'middle',
    font:{family:FONT,size:52,color:'#000',weight:'bold'}});
});
Plotly.newPlot('chart',traces,layout,{staticPlot:true,displayModeBar:false});
</script></body></html>
